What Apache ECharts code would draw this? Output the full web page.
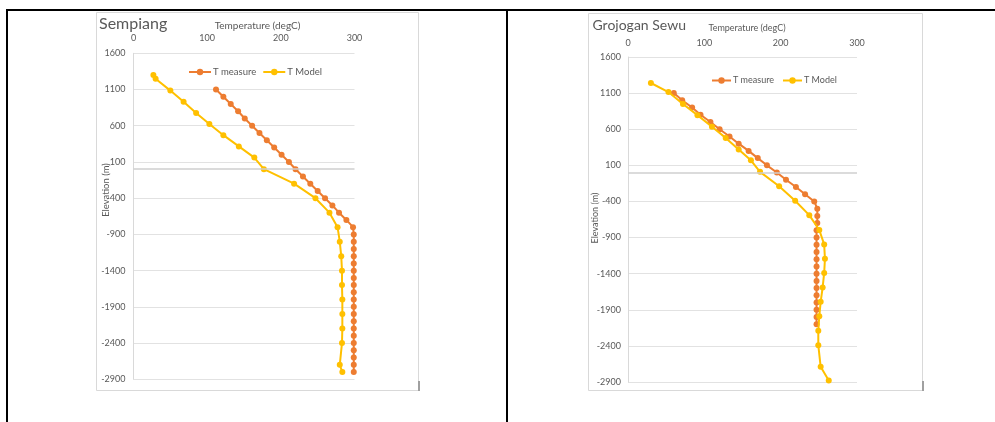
<!DOCTYPE html>
<html><head><meta charset="utf-8">
<script src="https://cdn.jsdelivr.net/npm/echarts@6/dist/echarts.min.js"></script>
<style>html,body{margin:0;padding:0;background:#fff}#c{width:995px;height:422px}</style>
</head><body><div id="c"></div>
<script>
// ---- data ----
const titles = ['Sempiang', 'Grojogan Sewu'];
const seriesNames = ['T measure', 'T Model'];
const tempMin = 0, tempMax = 300, tempStep = 100;
const elevMin = -2900, elevMax = 1600, elevStep = 500;

// Sempiang - measured
const semMeasureElev = [1100,1000,900,800,700,600,500,400,300,200,100,0,-100,-200,-300,-400,-500,-600,-700,-800,
  -900,-1000,-1100,-1200,-1300,-1400,-1500,-1600,-1700,-1800,-1900,-2000,-2100,-2200,-2300,-2400,-2500,-2600,-2700,-2800];
const semMeasureTemp = [112,122,132,142,151,161,171,181,191,201,211,220,230,240,250,260,270,279,289,298,
  299,299,299,299,299,299,299,299,299,299,299,299,299,299,299,299,299,299,299,299];
// Sempiang - model
const semModelElev = [1300,1250,1085,930,775,625,470,315,160,0,-200,-400,-600,-800,-1000,-1200,-1400,-1600,-1800,-2000,-2200,-2400,-2700,-2800];
const semModelTemp = [27,30,50,68,85,103,122,143,164,177,218,247,266,277,280,282,283,283,283.5,283.5,283.5,283,280,283.5];

// Grojogan Sewu - measured
const groMeasureElev = [1100,1000,900,800,700,600,500,400,300,200,100,0,-100,-200,-300,-400,-500,-600,-700,
  -800,-900,-1000,-1100,-1200,-1300,-1400,-1500,-1600,-1700,-1800,-1900,-2000,-2100];
const groMeasureTemp = [60,71,84,95,108,120,133,145,158,170,182,195,207,220,232,244,248,248,248,
  247,247,247,247,247,247,247,247,247,247,247,247,247,247];
// Grojogan Sewu - model
const groModelElev = [1240,1115,950,795,635,480,320,170,10,-190,-390,-590,-795,-995,-1195,-1390,-1590,-1790,-1990,-2190,-2390,-2690,-2880];
const groModelTemp = [30,53,72,91,110,128,145,161,173,198,219,237.5,250.6,257,258,257,255,252.4,250.6,249.3,249.3,252.4,263];

// ---- build ----
const FONT = 'Lato, "Open Sans", sans-serif';
const TXT = '#595959';
const C_MEAS = '#ED7D31', C_MOD = '#FFC000';
const pairs = (t, e) => t.map((v, i) => [v, e[i]]);

const grids = [
  {left: 133.5, top: 53.3, width: 221, height: 326, labelMargin: 11},
  {left: 628, top: 57, width: 229, height: 325, labelMargin: 9}
];

function xAx(i){
  return {type:'value', gridIndex:i, position:'top', min:tempMin, max:tempMax, interval:tempStep,
    axisLine:{show:false}, axisTick:{show:false}, splitLine:{show:false},
    axisLabel:{fontSize:9, color:TXT, fontFamily:FONT, margin:grids[i].labelMargin, formatter:v => String(v)}};
}
function yAx(i){
  return {type:'value', gridIndex:i, min:elevMin, max:elevMax, interval:elevStep,
    axisLine:{show:true, onZero:false, lineStyle:{color:'#d9d9d9', width:1}}, axisTick:{show:false},
    splitLine:{show:true, lineStyle:{color:'#e2e2e2', width:1}},
    axisLabel:{fontSize:9, color:TXT, fontFamily:FONT, margin: i===0?8:7, formatter:v => String(v)}};
}
function ser(name, data, color, i, withZero){
  const s = {name, type:'line', xAxisIndex:i, yAxisIndex:i, data, symbol:'circle', symbolSize:6,
    itemStyle:{color}, lineStyle:{color, width:2}, z: name===seriesNames[1]?3:2};
  if (withZero) s.markLine = {silent:true, symbol:'none', label:{show:false}, animation:false,
    lineStyle:{color:'#cfcfcf', width:1.5, type:'solid'}, data:[{yAxis:0}]};
  return s;
}

const option = {
  animation:false,
  backgroundColor:'#fff',
  grid: grids.map(g => ({left:g.left, top:g.top, width:g.width, height:g.height})),
  xAxis:[xAx(0), xAx(1)],
  yAxis:[yAx(0), yAx(1)],
  legend:[
    {data:seriesNames, left:183, top:62, itemWidth:22, itemHeight:8, itemGap:6,
      textStyle:{fontSize:9.5, color:TXT, fontFamily:FONT, padding:[0,0,0,-3]}},
    {data:seriesNames, left:706, top:71, itemWidth:19, itemHeight:8, itemGap:8,
      textStyle:{fontSize:9, color:TXT, fontFamily:FONT, padding:[0,0,0,-3]}}
  ],
  series:[
    ser(seriesNames[0], pairs(semMeasureTemp, semMeasureElev), C_MEAS, 0, true),
    ser(seriesNames[1], pairs(semModelTemp, semModelElev), C_MOD, 0, false),
    ser(seriesNames[0], pairs(groMeasureTemp, groMeasureElev), C_MEAS, 1, true),
    ser(seriesNames[1], pairs(groModelTemp, groModelElev), C_MOD, 1, false)
  ],
  graphic:[
    // table borders
    {type:'rect', shape:{x:6, y:9, width:989, height:2}, style:{fill:'#000'}, z:0},
    {type:'rect', shape:{x:6, y:9, width:2, height:413}, style:{fill:'#000'}, z:0},
    {type:'rect', shape:{x:506, y:9, width:2, height:413}, style:{fill:'#000'}, z:0},
    // chart frames
    {type:'rect', shape:{x:96.5, y:12.5, width:322, height:378}, style:{fill:'none', stroke:'#d9d9d9', lineWidth:1}, z:1},
    {type:'rect', shape:{x:588.5, y:13.5, width:334, height:377}, style:{fill:'none', stroke:'#d9d9d9', lineWidth:1}, z:1},
    {type:'rect', shape:{x:418, y:381, width:2, height:10}, style:{fill:'#a0a0a0'}, z:2},
    {type:'rect', shape:{x:922, y:381, width:2, height:10}, style:{fill:'#a0a0a0'}, z:2},
    // titles
    {type:'text', x:99, y:24, z:5, style:{text:titles[0], font:'16px '+FONT, fill:TXT, align:'left', verticalAlign:'middle'}},
    {type:'text', x:592.5, y:25, z:5, style:{text:titles[1], font:'14px '+FONT, fill:TXT, align:'left', verticalAlign:'middle'}},
    // axis names
    {type:'text', x:257.5, y:26, z:5, style:{text:'Temperature (degC)', font:'10px '+FONT, fill:TXT, align:'center', verticalAlign:'middle'}},
    {type:'text', x:747, y:28.5, z:5, style:{text:'Temperature (degC)', font:'9px '+FONT, fill:TXT, align:'center', verticalAlign:'middle'}},
    {type:'text', x:105.5, y:190, rotation:Math.PI/2, z:5, style:{text:'Elevation (m)', font:'9.5px '+FONT, fill:TXT, align:'center', verticalAlign:'middle'}},
    {type:'text', x:595, y:218, rotation:Math.PI/2, z:5, style:{text:'Elevation (m)', font:'9px '+FONT, fill:TXT, align:'center', verticalAlign:'middle'}}
  ]
};
const chart = echarts.init(document.getElementById('c'));
chart.setOption(option);
</script></body></html>
